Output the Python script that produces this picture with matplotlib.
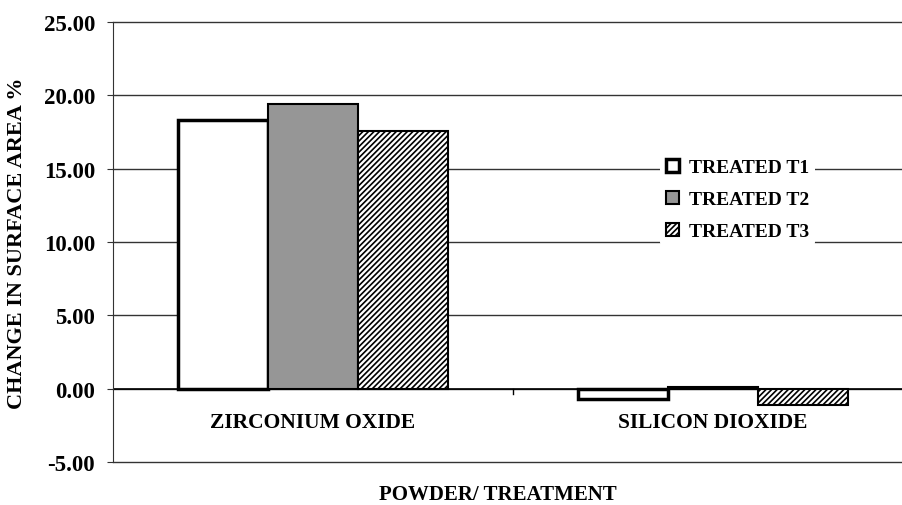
import numpy as np
import matplotlib
matplotlib.use('Agg')
import matplotlib.pyplot as plt

plt.rcParams['font.family'] = ['Liberation Serif', 'DejaVu Serif']
plt.rcParams['font.weight'] = 'bold'
plt.rcParams['axes.labelweight'] = 'bold'
plt.rcParams['hatch.linewidth'] = 1.2

# data
CATEGORIES = ['ZIRCONIUM OXIDE', 'SILICON DIOXIDE']
SERIES = ['TREATED T1', 'TREATED T2', 'TREATED T3']
VALUES_T1 = [18.3, -0.7]
VALUES_T2 = [19.4, 0.1]
VALUES_T3 = [17.6, -1.1]
Y_TICKS = [-5, 0, 5, 10, 15, 20, 25]

fig = plt.figure(figsize=(9.03, 5.06), dpi=100)
ax = fig.add_axes([113/903, 43/506, 800/903, 440/506])

x = np.arange(len(CATEGORIES))
w = 0.225

ax.bar(x - w, VALUES_T1, w, facecolor='white', edgecolor='black',
       linewidth=2.5, label=SERIES[0], zorder=3)
ax.bar(x, VALUES_T2, w, facecolor='#969696', edgecolor='black',
       linewidth=1.5, label=SERIES[1], zorder=3)
ax.bar(x + w, VALUES_T3, w, facecolor='white', edgecolor='black',
       hatch='//////', linewidth=1.5, label=SERIES[2], zorder=3)

ax.set_xlim(-0.5, 1.5)
ax.set_ylim(-5, 25)
ax.set_yticks(Y_TICKS)
ax.set_yticklabels(['%.2f' % v for v in Y_TICKS], fontsize=16.5)
for v in Y_TICKS:
    ax.axhline(v, color='#333333', linewidth=1.0, zorder=1, clip_on=False)
ax.axhline(0, color='black', linewidth=1.2, zorder=2)

# category labels just under zero line, tick between groups
ax.set_xticks([])
for xi, c in zip(x, CATEGORIES):
    ax.text(xi, -2.25, c, ha='center', va='center', fontsize=15.5)
for xt in [0.5]:
    ax.plot([xt, xt], [0, -0.35], color='black', linewidth=1, zorder=2)

for s in ['top', 'right', 'bottom']:
    ax.spines[s].set_visible(False)
ax.spines['left'].set_color('#333333')
ax.tick_params(axis='y', length=4, color='#333333', pad=9)

ax.set_ylabel('CHANGE IN SURFACE AREA %', fontsize=16)
ax.yaxis.set_label_coords(-(113 - 27) / 800, 0.5)
fig.text(498/903, 1 - 495/506, 'POWDER/ TREATMENT', ha='center',
         va='center', fontsize=15)

leg = ax.legend(loc='upper left', bbox_to_anchor=(0.684, 0.702),
                frameon=True, fontsize=14, handlelength=0.65,
                handleheight=0.65, handletextpad=0.55, labelspacing=0.75,
                borderpad=0.3, borderaxespad=0)
leg.get_frame().set_edgecolor('none')
leg.get_frame().set_facecolor('white')
leg.get_frame().set_alpha(1)
leg.set_zorder(5)

fig.savefig('out.png', dpi=100)
